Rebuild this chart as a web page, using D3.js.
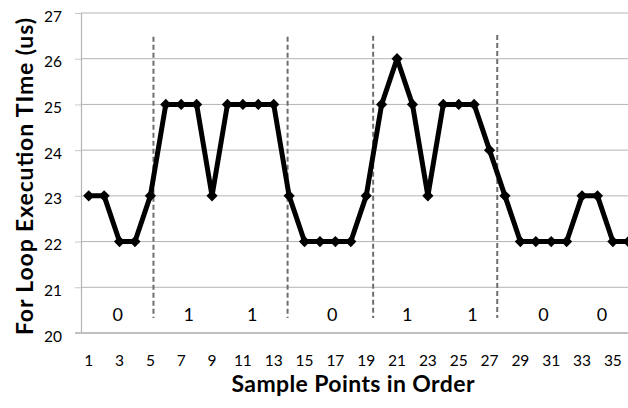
<!DOCTYPE html>
<html>
<head>
<meta charset="utf-8">
<script src="https://cdn.jsdelivr.net/npm/d3@7"></script>
<style>
  html, body { margin: 0; padding: 0; background: #fff; }
  svg { display: block; font-family: Lato, "Open Sans", sans-serif; }
</style>
</head>
<body>
<svg id="chart" width="628" height="408"></svg>
<script>
// Sample index and measured for-loop execution time (us)
const samples = d3.range(1, 37);
const times = [23, 23, 22, 22, 23, 25, 25, 25, 23, 25, 25, 25, 25, 23, 22, 22, 22, 22,
               23, 25, 26, 25, 23, 25, 25, 25, 24, 23, 22, 22, 22, 22, 23, 23, 22, 22];
const yTicks = [20, 21, 22, 23, 24, 25, 26, 27];
const xTickLabels = d3.range(1, 37, 2);

// Bit boundaries (in sample units) and decoded bits with their label positions
const boundaries = [5.2, 13.9, 19.45, 27.5];
const boundaryTop = [26.48, 26.48, 26.5, 26.52];
const bits = ["0", "1", "1", "0", "1", "1", "0", "0"];
const bitPos = [2.88, 7.48, 11.6, 16.8, 21.66, 25.9, 30.5, 34.3];

const svg = d3.select("#chart");
const plotLeft = 81, plotTop = 13, plotBottom = 333, plotRight = 636;

const x = d3.scaleLinear().domain([0.5, samples.length + 0.5]).range([plotLeft, plotRight]);
const y = d3.scaleLinear().domain([20, 27]).range([plotBottom, plotTop]);

// Horizontal gridlines
svg.append("g").selectAll("line").data(yTicks.filter(d => d > 20)).join("line")
  .attr("x1", plotLeft).attr("x2", 628)
  .attr("y1", d => y(d)).attr("y2", d => y(d))
  .attr("stroke", "#b4b4b4").attr("stroke-width", 1);

// Y axis
const yAxis = svg.append("g").attr("transform", `translate(${plotLeft},0)`)
  .call(d3.axisLeft(y).tickValues(yTicks).tickFormat(d3.format("d")).tickSize(6).tickPadding(5));
yAxis.select(".domain").attr("stroke", "#b4b4b4").attr("stroke-width", 1.2);
yAxis.selectAll(".tick line").attr("stroke", "#c8c8c8");
yAxis.selectAll(".tick text")
  .attr("font-size", 15.5).attr("fill", "#000")
  .attr("font-family", "Lato, sans-serif")
  .attr("x", -19).attr("dy", "0.52em");

// X axis baseline and tick labels
svg.append("line").attr("x1", plotLeft - 6).attr("x2", 628)
  .attr("y1", plotBottom).attr("y2", plotBottom)
  .attr("stroke", "#c0c0c0").attr("stroke-width", 2);
svg.append("g").selectAll("text").data(xTickLabels).join("text")
  .attr("x", d => x(d)).attr("y", 366)
  .attr("text-anchor", "middle")
  .attr("font-size", 15.5).attr("fill", "#000")
  .text(d => d);

// Dashed bit boundaries
svg.append("g").selectAll("line").data(boundaries).join("line")
  .attr("x1", d => x(d)).attr("x2", d => x(d))
  .attr("y1", (d, i) => y(boundaryTop[i])).attr("y2", y(20.33))
  .attr("stroke", "#6e6e6e").attr("stroke-width", 2)
  .attr("stroke-dasharray", "5,3");

// Bit labels
svg.append("g").selectAll("text").data(bits).join("text")
  .attr("x", (d, i) => x(bitPos[i])).attr("y", 321)
  .attr("text-anchor", "middle")
  .attr("font-size", 18).attr("fill", "#000")
  .text(d => d);

// Series line
const line = d3.line().x((d, i) => x(samples[i])).y(d => y(d));
svg.append("path").datum(times)
  .attr("d", line).attr("fill", "none")
  .attr("stroke", "#000").attr("stroke-width", 5)
  .attr("stroke-linejoin", "miter").attr("stroke-miterlimit", 3);

// Diamond markers
svg.append("g").selectAll("path").data(times).join("path")
  .attr("transform", (d, i) => `translate(${x(samples[i])},${y(d)})`)
  .attr("d", d3.symbol(d3.symbolDiamond2, 80)())
  .attr("fill", "#000");

// Axis titles
svg.append("text")
  .attr("x", 353).attr("y", 392)
  .attr("text-anchor", "middle")
  .attr("font-size", 23).attr("font-weight", "bold").attr("fill", "#000")
  .attr("textLength", 243).attr("lengthAdjust", "spacing")
  .text("Sample Points in Order");
svg.append("text")
  .attr("transform", "translate(33,176.5) rotate(-90)")
  .attr("text-anchor", "middle")
  .attr("font-size", 23).attr("font-weight", "bold").attr("fill", "#000")
  .attr("textLength", 317).attr("lengthAdjust", "spacing")
  .text("For Loop Execution TIme (us)");
</script>
</body>
</html>
